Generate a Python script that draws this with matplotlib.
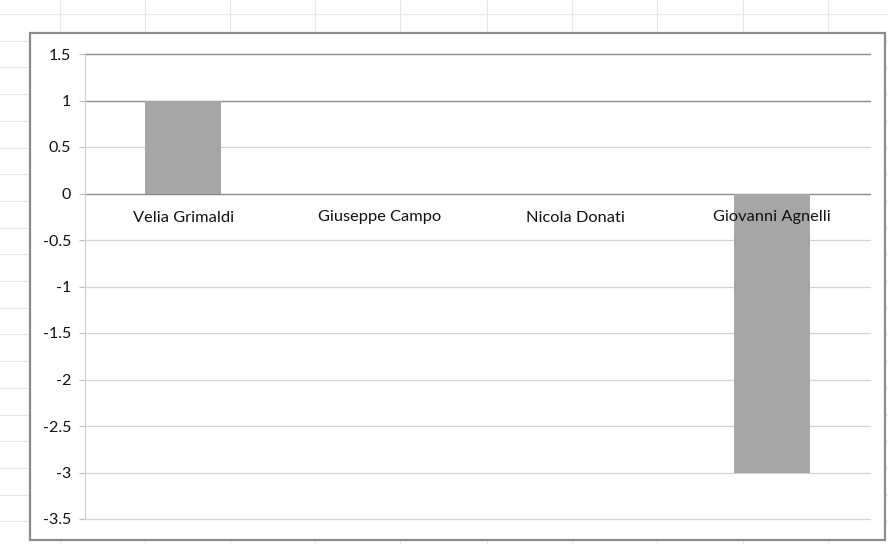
import matplotlib
matplotlib.use("Agg")
import matplotlib.pyplot as plt
import matplotlib.transforms as mtransforms
from matplotlib.lines import Line2D
from matplotlib.patches import Rectangle
import numpy as np

categories = ["Velia Grimaldi", "Giuseppe Campo", "Nicola Donati", "Giovanni Agnelli"]
values = [1, 0, 0, -3]
yticks = [1.5, 1, 0.5, 0, -0.5, -1, -1.5, -2, -2.5, -3, -3.5]
ytick_labels = ["1.5", "1", "0.5", "0", "-0.5", "-1", "-1.5", "-2", "-2.5", "-3", "-3.5"]

W, H = 888, 544
plt.rcParams["font.family"] = ["Lato", "DejaVu Sans"]
fig = plt.figure(figsize=(W / 100, H / 100), dpi=100)
fig.patch.set_facecolor("white")

# spreadsheet background grid
for x in [60, 145, 230, 315, 400, 487, 572, 657, 743, 828]:
    fig.add_artist(Line2D([x / W, x / W], [0, 1], transform=fig.transFigure,
                          color="#e6e6e6", lw=0.8, zorder=0))
for y in np.arange(14, 544, 26.7):
    fig.add_artist(Line2D([0, 1], [1 - y / H, 1 - y / H], transform=fig.transFigure,
                          color="#e6e6e6", lw=0.8, zorder=0))

# chart area frame
fig.add_artist(Rectangle((30 / W, 4 / H), 855 / W, (544 - 33 - 4) / H,
                         transform=fig.transFigure, facecolor="white",
                         edgecolor="#8c8c8c", lw=1.6, zorder=1))

ax = fig.add_axes([85 / W, (H - 519) / H, (870 - 85) / W, (519 - 54) / H])
ax.set_zorder(2)
ax.patch.set_alpha(0)

x = np.arange(len(categories))
ax.bar(x, values, width=0.39, color="#a6a6a6", zorder=3)

ax.set_xlim(-0.5, len(categories) - 0.5)
ax.set_ylim(-3.5, 1.5)
ax.set_yticks(yticks)
ax.set_yticklabels(ytick_labels, fontsize=11.5, color="#111111")
ax.tick_params(axis="y", length=4, width=0.8, color="#bfbfbf", pad=6)
ax.set_xticks([])

for v in yticks:
    dark = v in (1.5, 1, 0)
    ax.axhline(v, color="#8a8a8a" if dark else "#d4d4d4", lw=1.0 if dark else 0.9,
               zorder=2, clip_on=False)

for s in ["top", "right", "bottom"]:
    ax.spines[s].set_visible(False)
ax.spines["left"].set_color("#d0d0d0")
ax.spines["left"].set_linewidth(0.9)

trans = mtransforms.offset_copy(ax.transData, fig=fig, x=0, y=-24, units="dots")
for i, name in enumerate(categories):
    ax.text(i, 0, name, transform=trans, ha="center", va="center",
            fontsize=11.8, color="#111111", zorder=4)

fig.savefig("out.png", dpi=100)
